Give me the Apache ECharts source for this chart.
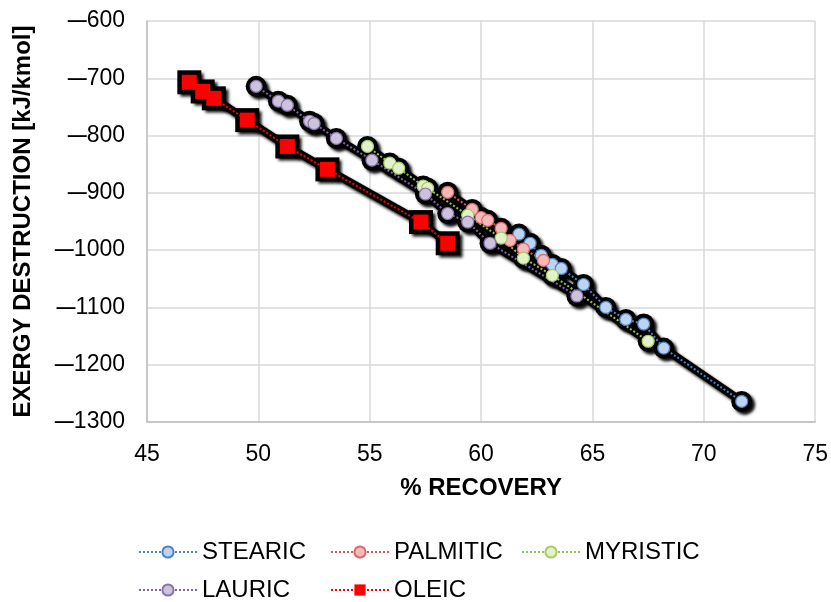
<!DOCTYPE html>
<html>
<head>
<meta charset="utf-8">
<script src="https://cdn.jsdelivr.net/npm/echarts@6/dist/echarts.min.js"></script>
<style>
html,body{margin:0;padding:0;background:#fff;}
#chart{width:831px;height:602px;}
</style>
</head>
<body>
<div id="chart"></div>
<script>
var seriesNames = ['STEARIC', 'PALMITIC', 'MYRISTIC', 'LAURIC', 'OLEIC'];
var stearicX = [61.7, 62.2, 62.7, 63.2, 63.6, 64.6, 65.6, 66.5, 67.3, 68.2, 71.7];
var stearicY = [-972, -988, -1009, -1025, -1032, -1060, -1100, -1121, -1129, -1171, -1264];
var palmiticX = [58.5, 59.6, 60.0, 60.3, 60.9, 61.3, 61.9, 62.8];
var palmiticY = [-899, -929, -943, -948, -962, -983, -998, -1018];
var myristicX = [54.9, 55.9, 56.3, 57.4, 57.6, 59.4, 60.9, 61.9, 63.2, 67.5];
var myristicY = [-819, -848, -857, -888, -892, -939, -979, -1014, -1044, -1159];
var lauricX = [49.9, 50.9, 51.3, 52.3, 52.5, 53.5, 55.1, 57.5, 58.5, 59.4, 60.4, 64.3];
var lauricY = [-714, -740, -747, -775, -779, -805, -843, -902, -936, -951, -988, -1080];
var oleicX = [46.9, 47.5, 48.0, 49.5, 51.3, 53.1, 57.3, 58.5];
var oleicY = [-707, -723, -735, -773, -819, -859, -951, -988];
var xTicks = [45, 50, 55, 60, 65, 70, 75];
var yTicks = [-1300, -1200, -1100, -1000, -900, -800, -700, -600];

function pairs(xs, ys) { return xs.map(function (x, i) { return [x, ys[i]]; }); }

var styles = [
  {line: '#4f81bd', fill: '#bcd3f2', border: '#4f81bd', symbol: 'circle', size: 12},
  {line: '#e05555', fill: '#f6b8b8', border: '#d46a6a', symbol: 'circle', size: 12},
  {line: '#92c050', fill: '#e2f2c6', border: '#a6cc6a', symbol: 'circle', size: 12},
  {line: '#8064a2', fill: '#cdc2de', border: '#8a72ab', symbol: 'circle', size: 12},
  {line: '#ff0000', fill: '#ff0000', border: '#ff0000', symbol: 'rect', size: 15}
];
var datas = [pairs(stearicX, stearicY), pairs(palmiticX, palmiticY), pairs(myristicX, myristicY), pairs(lauricX, lauricY), pairs(oleicX, oleicY)];

var series = [];
datas.forEach(function (d, i) {
  var s = styles[i];
  series.push({
    name: seriesNames[i] + '_shadow',
    type: 'line', data: d, z: 1, silent: true,
    symbol: s.symbol, symbolSize: s.size + 9,
    lineStyle: {color: '#000', width: 8, shadowColor: 'rgba(0,0,0,0.95)', shadowBlur: 3, shadowOffsetX: 3, shadowOffsetY: 3},
    itemStyle: {color: '#000', borderWidth: 0, shadowColor: 'rgba(0,0,0,0.95)', shadowBlur: 3, shadowOffsetX: 3, shadowOffsetY: 3},
    animation: false
  });
});
datas.forEach(function (d, i) {
  var s = styles[i];
  series.push({
    name: seriesNames[i],
    type: 'line', data: d, z: 5,
    symbol: s.symbol, symbolSize: s.size,
    lineStyle: {color: s.line, width: 2, type: 'dotted'},
    itemStyle: {color: s.fill, borderColor: s.border, borderWidth: s.symbol === 'rect' ? 0 : 1.2},
    animation: false
  });
});

function legendAt(name, left, top) {
  return {
    data: [name], left: left, top: top, itemWidth: 58, itemHeight: 14,
    textStyle: {fontFamily: 'Liberation Sans', fontSize: 24, color: '#000'},
    selectedMode: false
  };
}

var chart = echarts.init(document.getElementById('chart'), null, {renderer: 'canvas'});
chart.setOption({
  backgroundColor: '#fff',
  animation: false,
  grid: {left: 147, right: 10, top: 21, bottom: 180},
  legend: [
    legendAt('STEARIC', 133, 535),
    legendAt('PALMITIC', 325, 535),
    legendAt('MYRISTIC', 516, 535),
    legendAt('LAURIC', 133, 573),
    legendAt('OLEIC', 325, 573)
  ],
  xAxis: {
    type: 'value', min: 45, max: 75, interval: 5,
    name: '% RECOVERY', nameLocation: 'middle', nameGap: 54,
    nameTextStyle: {fontFamily: 'Liberation Sans', fontSize: 24, fontWeight: 'bold', color: '#000'},
    axisLine: {show: true, lineStyle: {color: '#bfbfbf', width: 1.5}},
    axisTick: {show: false},
    axisLabel: {fontFamily: 'Liberation Sans', fontSize: 23, color: '#000', margin: 21,
      formatter: function (v) { return xTicks.indexOf(v) >= 0 ? String(v) : ''; }},
    splitLine: {show: true, lineStyle: {color: '#d9d9d9', width: 1.5}}
  },
  yAxis: {
    type: 'value', min: -1300, max: -600, interval: 100,
    name: 'EXERGY DESTRUCTION [kJ/kmol]', nameLocation: 'middle', nameGap: 112,
    nameTextStyle: {fontFamily: 'Liberation Sans', fontSize: 24, fontWeight: 'bold', color: '#000'},
    axisLine: {show: true, lineStyle: {color: '#bfbfbf', width: 1.5}},
    axisTick: {show: false},
    axisLabel: {fontFamily: 'Liberation Sans', fontSize: 23, color: '#000', margin: 22,
      formatter: function (v) { return yTicks.indexOf(v) >= 0 ? (v < 0 ? '{d|\u2014}' + Math.abs(v) : String(v)) : ''; },
      rich: {d: {fontFamily: 'Liberation Sans', fontSize: 19, fontWeight: 'bold', color: '#000'}}
    },
    splitLine: {show: true, lineStyle: {color: '#d9d9d9', width: 1.5}}
  },
  series: series
});
</script>
</body>
</html>
